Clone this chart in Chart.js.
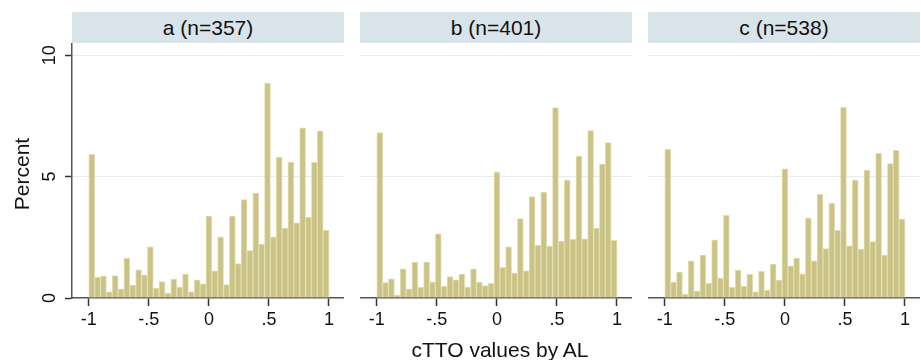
<!DOCTYPE html>
<html>
<head>
<meta charset="utf-8">
<script src="https://cdn.jsdelivr.net/npm/chart.js@4"></script>
<style>
  body { margin: 0; background: #fff; font-family: "Liberation Sans", Arial, sans-serif; }
  #wrap { position: relative; width: 921px; height: 360px; overflow: hidden; }
  canvas { position: absolute; }
  .strip { position: absolute; top: 12px; height: 31px; background: #d9e4ea; color: #111;
           font-size: 21px; line-height: 31px; text-align: center; }
  .title { position: absolute; color: #111; font-size: 21px; text-align: center; white-space: nowrap; }
</style>
</head>
<body>
<div id="wrap">
  <div class="strip" id="s0" style="left:72px;width:272px"></div>
  <div class="strip" id="s1" style="left:360px;width:272px"></div>
  <div class="strip" id="s2" style="left:648px;width:272px"></div>
  <canvas id="c0" width="344" height="297" style="left:0;top:43px"></canvas>
  <canvas id="c1" width="272" height="297" style="left:360px;top:43px"></canvas>
  <canvas id="c2" width="272" height="297" style="left:648px;top:43px"></canvas>
  <div class="title" style="left:-38px;top:162px;width:120px;line-height:24px;transform:rotate(-90deg)">Percent</div>
  <div class="title" style="left:300px;top:339px;width:400px;line-height:21px">cTTO values by AL</div>
</div>
<script>
// data
const panelTitles = ['a (n=357)', 'b (n=401)', 'c (n=538)'];
const xTicks = [-1, -0.5, 0, 0.5, 1];
const xTickLabels = ['-1', '-.5', '0', '.5', '1'];
const yTicks = [0, 5, 10];
const yTickLabels = ['0', '5', '10'];

// percent per bin, 41 bins from -1 to 1
const pctA = [5.92, 0.85, 0.9, 0.25, 0.92, 0.38, 1.64, 0.53, 1.16, 0.95, 2.11, 0.41, 0.68, 0.2,
  0.78, 0.45, 0.99, 0.25, 0.75, 0.58, 3.37, 1.12, 2.52, 0.55, 3.37, 1.42, 4.05, 1.95, 4.32, 2.22,
  8.85, 2.52, 5.79, 2.88, 5.59, 3.1, 7.01, 3.32, 5.59, 6.88, 2.79];
const pctB = [6.81, 0.64, 0.79, 0.12, 1.2, 0.38, 1.48, 0.44, 1.48, 0.66, 2.64, 0.48, 0.88, 0.75,
  0.99, 0.45, 1.2, 0.66, 0.51, 0.6, 5.18, 1.26, 2.11, 1.03, 3.27, 1.12, 4.18, 2.18, 4.36, 2.14,
  7.84, 2.34, 4.86, 2.42, 5.84, 2.44, 6.89, 2.88, 5.51, 6.4, 2.37];
const pctC = [6.12, 0.66, 1.07, 0.16, 1.53, 0.29, 1.77, 0.6, 2.4, 0.82, 3.4, 0.44, 1.15, 0.49,
  0.97, 0.25, 1.1, 0.32, 1.4, 0.74, 5.32, 1.32, 1.64, 1.0, 3.29, 1.53, 4.27, 2.03, 3.9, 2.79,
  7.85, 2.15, 4.86, 2.01, 5.26, 2.32, 5.96, 1.77, 5.53, 6.08, 3.25];

const binStart = -1, binWidth = 2 / 41;
const fontFam = '"Liberation Sans", Arial, sans-serif';

// rotated y tick labels (Chart.js only rotates horizontal scale labels)
const yLabelPlugin = {
  id: 'yLabels',
  afterDraw(chart) {
    if (!chart.options.plugins.yLabels.show) return;
    const y = chart.scales.y, ctx = chart.ctx;
    ctx.save();
    ctx.fillStyle = '#111';
    ctx.font = '18px ' + fontFam;
    ctx.textAlign = 'center';
    ctx.textBaseline = 'middle';
    yTicks.forEach((v, i) => {
      ctx.save();
      ctx.translate(50, y.getPixelForValue(v));
      ctx.rotate(-Math.PI / 2);
      ctx.fillText(yTickLabels[i], 0, 0);
      ctx.restore();
    });
    ctx.restore();
  }
};

function makePanel(idx, values, showY) {
  document.getElementById('s' + idx).textContent = panelTitles[idx];
  const pts = values.map((v, i) => ({ x: binStart + (i + 0.5) * binWidth, y: v }));
  new Chart(document.getElementById('c' + idx), {
    type: 'bar',
    data: {
      datasets: [{
        data: pts,
        backgroundColor: '#cac385',
        borderColor: '#e2ddb0',
        borderWidth: 1,
        barPercentage: 1,
        categoryPercentage: 1
      }]
    },
    options: {
      responsive: false,
      animation: false,
      devicePixelRatio: 1,
      layout: { padding: 0 },
      plugins: { legend: { display: false }, tooltip: { enabled: false }, yLabels: { show: showY } },
      scales: {
        x: {
          type: 'linear',
          min: -1.14,
          max: 1.125,
          offset: false,
          afterBuildTicks: s => { s.ticks = xTicks.map(v => ({ value: v })); },
          afterFit: s => { s.height = 42; },
          grid: { drawOnChartArea: false, offset: false, tickLength: 8, tickColor: '#333', tickWidth: 1.5 },
          border: { color: '#555', width: 1.5 },
          ticks: {
            autoSkip: false, maxRotation: 0, padding: 3, color: '#111',
            font: { family: fontFam, size: 18 },
            callback: (v, i) => xTickLabels[i]
          }
        },
        y: {
          min: 0,
          max: 10.5,
          afterBuildTicks: s => { s.ticks = yTicks.map(v => ({ value: v })); },
          afterFit: s => { s.width = showY ? 72 : 0; },
          grid: {
            color: c => c.tick && c.tick.value === 0 ? 'rgba(0,0,0,0)' : '#e4ecf1',
            lineWidth: 1,
            drawTicks: showY, tickLength: 7, tickColor: '#333', tickWidth: 1.5
          },
          border: { display: showY, color: '#555', width: 1.5 },
          ticks: { display: false }
        }
      }
    },
    plugins: [yLabelPlugin]
  });
}

makePanel(0, pctA, true);
makePanel(1, pctB, false);
makePanel(2, pctC, false);
</script>
</body>
</html>
